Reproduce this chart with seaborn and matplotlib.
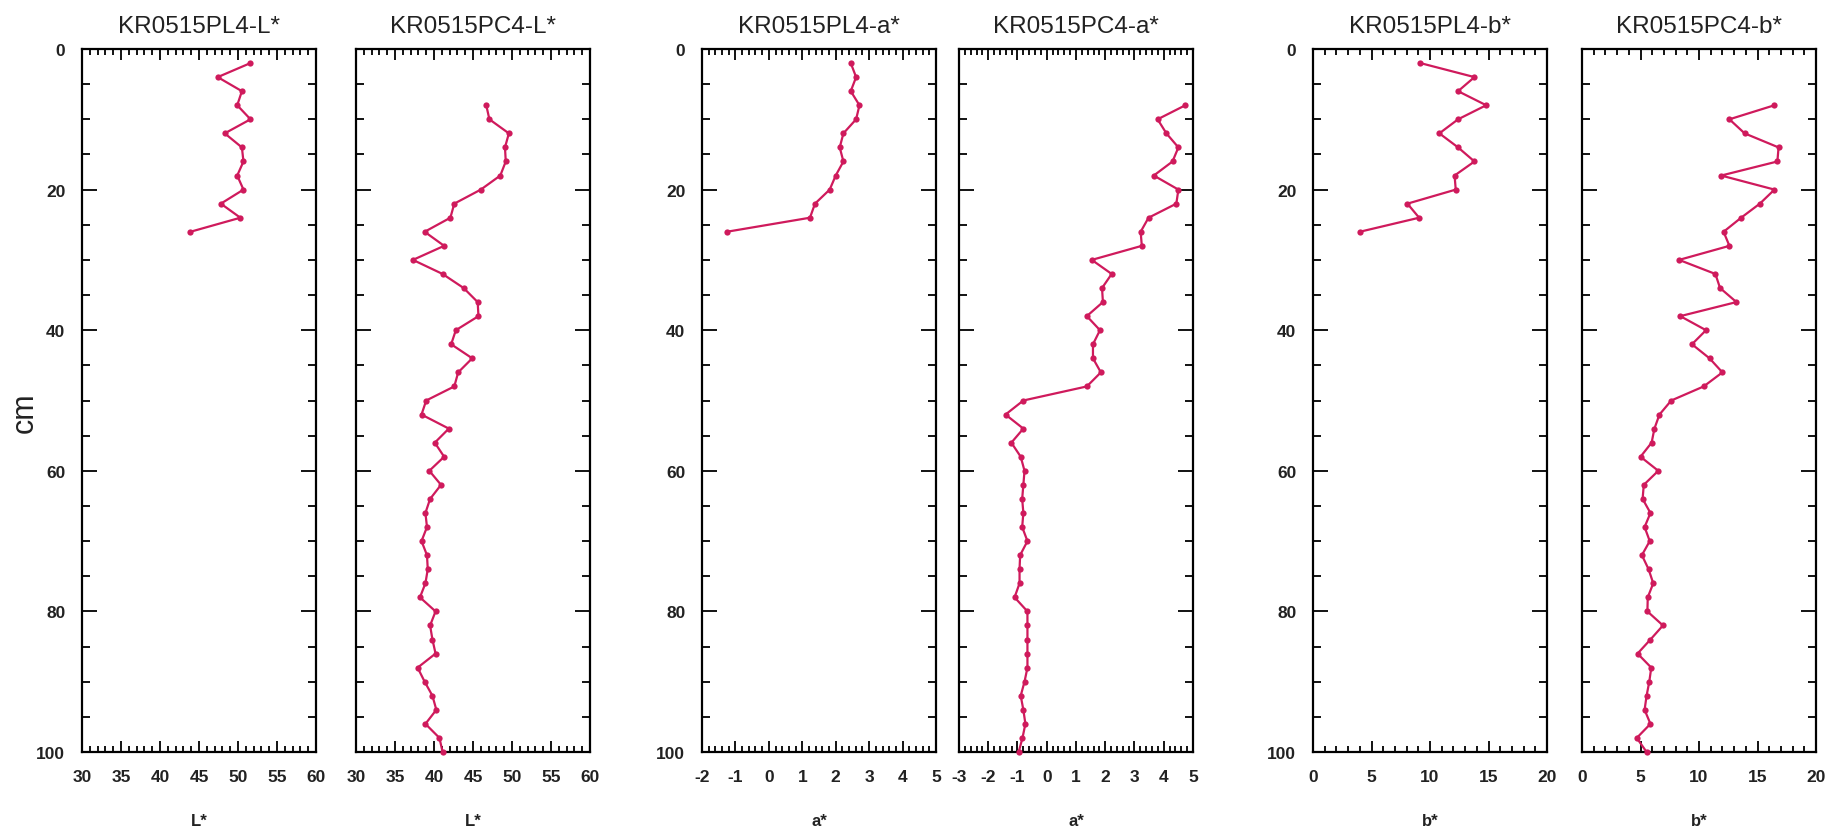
import matplotlib
matplotlib.use("Agg")
import matplotlib.pyplot as plt
from matplotlib.ticker import MultipleLocator
import seaborn as sns
import pandas as pd

sns.set_theme(style="white")
plt.rcParams['font.family'] = ['Liberation Sans', 'DejaVu Sans']
plt.rcParams['axes.unicode_minus'] = False

# ---------------- data ----------------
depth_pl4 = [2, 4, 6, 8, 10, 12, 14, 16, 18, 20, 22, 24, 26]
depth_pc4 = [8, 10, 12, 14, 16, 18, 20, 22, 24, 26, 28, 30, 32, 34, 36, 38, 40,
             42, 44, 46, 48, 50, 52, 54, 56, 58, 60, 62, 64, 66, 68, 70, 72, 74,
             76, 78, 80, 82, 84, 86, 88, 90, 92, 94, 96, 98, 100]

pl4_L = [51.6, 47.4, 50.5, 49.9, 51.6, 48.3, 50.5, 50.7, 49.9, 50.7, 47.8, 50.3, 43.9]
pc4_L = [46.7, 47.1, 49.6, 49.1, 49.2, 48.5, 46.0, 42.6, 42.1, 38.8, 41.3, 37.3,
         41.1, 43.8, 45.6, 45.7, 42.8, 42.2, 44.9, 43.1, 42.6, 39.0, 38.4, 41.9,
         40.1, 41.3, 39.4, 40.9, 39.5, 38.9, 39.1, 38.4, 39.1, 39.2, 38.9, 38.2,
         40.2, 39.5, 39.8, 40.2, 37.9, 38.8, 39.8, 40.3, 38.9, 40.7, 41.1]

pl4_a = [2.45, 2.61, 2.45, 2.71, 2.61, 2.23, 2.12, 2.23, 2.0, 1.82, 1.38, 1.23, -1.26]
pc4_a = [4.74, 3.79, 4.09, 4.5, 4.3, 3.66, 4.5, 4.43, 3.48, 3.21, 3.25, 1.54,
         2.22, 1.89, 1.92, 1.37, 1.82, 1.58, 1.58, 1.85, 1.37, -0.8, -1.41, -0.8,
         -1.21, -0.89, -0.76, -0.8, -0.84, -0.8, -0.84, -0.66, -0.91, -0.93, -0.93,
         -1.1, -0.66, -0.66, -0.66, -0.66, -0.66, -0.76, -0.89, -0.8, -0.73, -0.83, -0.96]

pl4_b = [9.17, 13.8, 12.4, 14.8, 12.4, 10.8, 12.4, 13.8, 12.1, 12.2, 8.07, 9.07, 4.0]
pc4_b = [16.45, 12.6, 13.9, 16.8, 16.7, 11.9, 16.45, 15.2, 13.6, 12.1, 12.6, 8.3,
         11.4, 11.8, 13.2, 8.4, 10.6, 9.4, 10.9, 12.0, 10.4, 7.63, 6.62, 6.19,
         5.95, 5.0, 6.52, 5.28, 5.18, 5.85, 5.35, 5.79, 5.12, 5.69, 6.09, 5.62,
         5.59, 6.92, 5.85, 4.75, 5.92, 5.75, 5.52, 5.35, 5.85, 4.68, 5.52]

titles = ["KR0515PL4-L*", "KR0515PC4-L*", "KR0515PL4-a*",
          "KR0515PC4-a*", "KR0515PL4-b*", "KR0515PC4-b*"]
xlabels = ["L*", "L*", "a*", "a*", "b*", "b*"]
xlims = [(30, 60), (30, 60), (-2, 5), (-3, 5), (0, 20), (0, 20)]
xmajor = [5, 5, 1, 1, 5, 5]
xminor = [1, 1, 0.2, 0.2, 1, 1]
yticks = [0, 20, 40, 60, 80, 100]

series = [(pl4_L, depth_pl4), (pc4_L, depth_pc4), (pl4_a, depth_pl4),
          (pc4_a, depth_pc4), (pl4_b, depth_pl4), (pc4_b, depth_pc4)]

# ---------------- layout ----------------
W, H = 1830, 837
fig = plt.figure(figsize=(W / 100, H / 100), dpi=100)
lefts_px = [82, 356, 702, 959, 1313, 1582]
width_px = 234
top_px, bottom_px = 50, 753

line_color = "#CF1A5C"
txt_color = "#222222"

for i, (vals, dep) in enumerate(series):
    ax = fig.add_axes([lefts_px[i] / W, 1 - bottom_px / H,
                       width_px / W, (bottom_px - top_px) / H])
    df = pd.DataFrame({"v": vals, "d": dep})
    sns.lineplot(data=df, x="v", y="d", orient="y", sort=False, ax=ax,
                 color=line_color, linewidth=1.6, marker="o", markersize=4.5,
                 markeredgewidth=0, estimator=None)
    for ln in ax.get_lines():
        ln.set_clip_on(False)
        ln.set_zorder(5)
    ax.set_xlim(*xlims[i])
    ax.set_ylim(100, 0)
    ax.xaxis.set_major_locator(MultipleLocator(xmajor[i]))
    ax.xaxis.set_minor_locator(MultipleLocator(xminor[i]))
    ax.set_yticks(yticks)
    ax.yaxis.set_minor_locator(MultipleLocator(5))
    ax.tick_params(axis="both", which="both", direction="in",
                   top=True, bottom=True, left=True, right=True,
                   colors="black", width=1.3)
    ax.tick_params(axis="x", which="major", length=8, pad=12,
                   labelsize=12.5, labelcolor=txt_color)
    ax.tick_params(axis="x", which="minor", length=4)
    ax.tick_params(axis="y", which="major", length=11, pad=12,
                   labelsize=12.5, labelcolor=txt_color)
    ax.tick_params(axis="y", which="minor", length=6)
    for lab in ax.get_xticklabels() + ax.get_yticklabels():
        lab.set_fontweight("bold")
    if i % 2 == 1:
        ax.tick_params(axis="y", labelleft=False)
    for sp in ax.spines.values():
        sp.set_visible(True)
        sp.set_color("black")
        sp.set_linewidth(1.6)
    ax.set_facecolor("white")
    ax.grid(False)
    ax.set_title(titles[i], fontsize=17.5, color=txt_color, pad=12)
    ax.set_xlabel(xlabels[i], fontsize=12, fontweight="bold",
                  color=txt_color, labelpad=21)
    ax.set_ylabel("")

fig.text(25 / W, 1 - 413 / H, "cm", rotation=90, fontsize=22,
         color=txt_color, ha="center", va="center")

fig.savefig("out.png", dpi=100, facecolor="white")
